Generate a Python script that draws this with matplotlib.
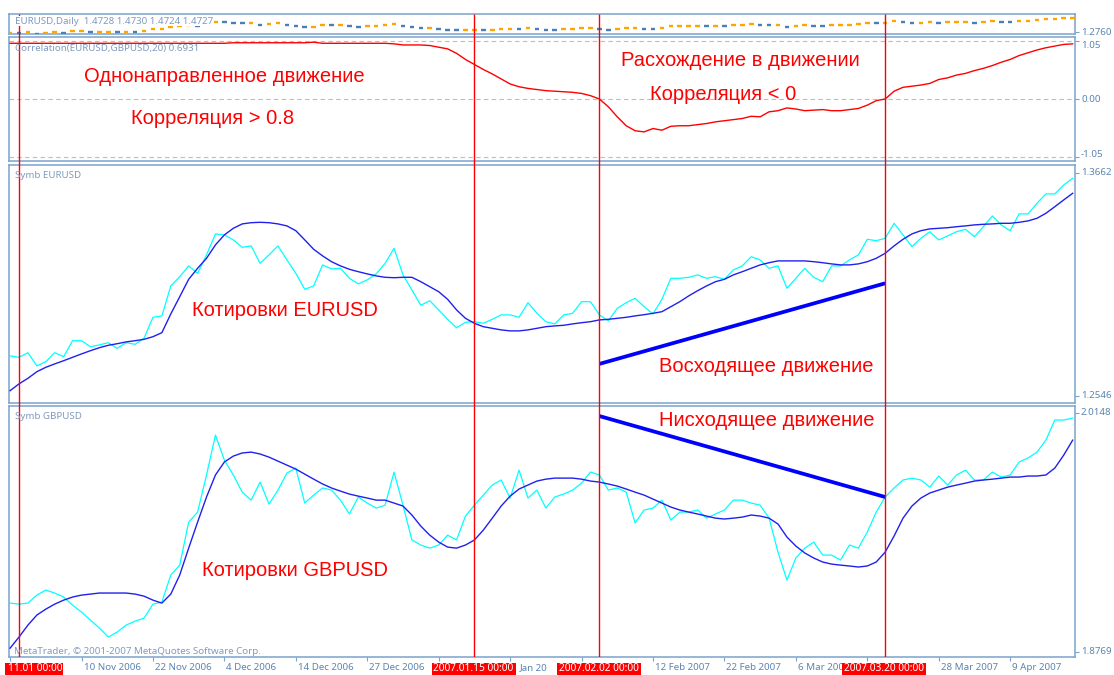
import matplotlib
matplotlib.use("Agg")
import matplotlib.pyplot as plt
import numpy as np
from matplotlib.transforms import blended_transform_factory
from matplotlib.patches import Rectangle

# ---------------- data ----------------
eur_close = [
    1.2746, 1.2739, 1.2762, 1.2696, 1.2717, 1.2762, 1.2742, 1.2822, 1.2822, 1.2792,
    1.2801, 1.2812, 1.2784, 1.2812, 1.2804, 1.2834, 1.2939, 1.2946, 1.3096, 1.3142,
    1.3196, 1.3159, 1.3251, 1.3356, 1.3351, 1.3326, 1.3289, 1.3296, 1.3209, 1.3251,
    1.3296, 1.3226, 1.3159, 1.3079, 1.3096, 1.3201, 1.3181, 1.3184, 1.3134, 1.3106,
    1.3126, 1.3156, 1.3209, 1.3284, 1.3151, 1.3076, 1.2999, 1.3022, 1.2976, 1.2929,
    1.2887, 1.2914, 1.2917, 1.2909, 1.2929, 1.2951, 1.2951, 1.2939, 1.3012, 1.2959,
    1.2917, 1.2906, 1.2951, 1.2959, 1.3017, 1.3017, 1.2951, 1.2921, 1.2984, 1.3012,
    1.3034, 1.2992, 1.2956, 1.3029, 1.3134, 1.3134, 1.3139, 1.3151, 1.3134, 1.3142,
    1.3129, 1.3176, 1.3196, 1.3242, 1.3226, 1.3184, 1.3196, 1.3084, 1.3134, 1.3184,
    1.3139, 1.3117, 1.3196, 1.3196, 1.3226, 1.3251, 1.3329, 1.3322, 1.3334, 1.3409,
    1.3351, 1.3292, 1.3334, 1.3367, 1.3326, 1.3346, 1.3367, 1.3379, 1.3342, 1.3392,
    1.3446, 1.3401, 1.3372, 1.3456, 1.3456, 1.3509, 1.3556, 1.3556, 1.3601, 1.3634,
]
eur_ma = [
    1.2572, 1.2606, 1.2634, 1.2667, 1.2689, 1.2706, 1.2722, 1.2739, 1.2756, 1.2772,
    1.2787, 1.2799, 1.2807, 1.2816, 1.2822, 1.2829, 1.2842, 1.2862, 1.2956, 1.3042,
    1.3129, 1.3184, 1.3234, 1.3301, 1.3351, 1.3384, 1.3406, 1.3412, 1.3414, 1.3412,
    1.3406, 1.3396, 1.3372, 1.3326, 1.3279, 1.3246, 1.3217, 1.3196, 1.3179, 1.3167,
    1.3156, 1.3146, 1.3139, 1.3137, 1.3139, 1.3139, 1.3117, 1.3092, 1.3067, 1.3029,
    1.2976, 1.2934, 1.2909, 1.2892, 1.2884, 1.2876, 1.2871, 1.2871, 1.2876, 1.2884,
    1.2892, 1.2896, 1.2899, 1.2906, 1.2912, 1.2917, 1.2926, 1.2929, 1.2934, 1.2939,
    1.2946, 1.2952, 1.2959, 1.2967, 1.2992, 1.3017, 1.3046, 1.3072, 1.3096, 1.3117,
    1.3129, 1.3151, 1.3167, 1.3184, 1.3201, 1.3212, 1.3221, 1.3221, 1.3221, 1.3221,
    1.3217, 1.3212, 1.3206, 1.3201, 1.3201, 1.3206, 1.3217, 1.3234, 1.3259, 1.3296,
    1.3329, 1.3356, 1.3372, 1.3381, 1.3384, 1.3387, 1.3392, 1.3396, 1.3401, 1.3404,
    1.3406, 1.3409, 1.3409, 1.3414, 1.3421, 1.3434, 1.3459, 1.3492, 1.3526, 1.3559,
]
gbp_close = [
    1.9050, 1.9044, 1.9050, 1.9096, 1.9125, 1.9108, 1.9085, 1.9038, 1.8998, 1.8952,
    1.8906, 1.8854, 1.8883, 1.8923, 1.8946, 1.8963, 1.9044, 1.9056, 1.9212, 1.9269,
    1.9517, 1.9575, 1.9789, 2.0019, 1.9875, 1.9789, 1.9690, 1.9644, 1.9748, 1.9621,
    1.9702, 1.9800, 1.9829, 1.9627, 1.9673, 1.9714, 1.9702, 1.9644, 1.9564, 1.9662,
    1.9627, 1.9598, 1.9615, 1.9806, 1.9615, 1.9414, 1.9385, 1.9367, 1.9385, 1.9442,
    1.9414, 1.9552, 1.9615, 1.9673, 1.9731, 1.9760, 1.9656, 1.9817, 1.9656, 1.9702,
    1.9598, 1.9662, 1.9679, 1.9702, 1.9742, 1.9806, 1.9789, 1.9702, 1.9714, 1.9690,
    1.9512, 1.9587, 1.9598, 1.9644, 1.9529, 1.9575, 1.9575, 1.9587, 1.9540, 1.9564,
    1.9587, 1.9644, 1.9644, 1.9627, 1.9615, 1.9540, 1.9344, 1.9183, 1.9310, 1.9367,
    1.9402, 1.9327, 1.9327, 1.9298, 1.9385, 1.9367, 1.9460, 1.9575, 1.9662, 1.9714,
    1.9760, 1.9771, 1.9760, 1.9719, 1.9783, 1.9731, 1.9789, 1.9817, 1.9760, 1.9760,
    1.9806, 1.9777, 1.9789, 1.9864, 1.9887, 1.9921, 1.9990, 2.0106, 2.0106, 2.0117,
]
gbp_ma = [
    1.8790, 1.8854, 1.8923, 1.8981, 1.9015, 1.9044, 1.9067, 1.9085, 1.9096, 1.9102,
    1.9108, 1.9108, 1.9108, 1.9108, 1.9102, 1.9090, 1.9067, 1.9050, 1.9102, 1.9212,
    1.9367, 1.9517, 1.9662, 1.9789, 1.9864, 1.9898, 1.9916, 1.9921, 1.9910, 1.9892,
    1.9869, 1.9846, 1.9823, 1.9794, 1.9765, 1.9737, 1.9714, 1.9696, 1.9679, 1.9667,
    1.9656, 1.9644, 1.9644, 1.9627, 1.9610, 1.9558, 1.9494, 1.9442, 1.9402, 1.9373,
    1.9367, 1.9385, 1.9414, 1.9471, 1.9540, 1.9610, 1.9667, 1.9708, 1.9731, 1.9754,
    1.9765, 1.9771, 1.9771, 1.9771, 1.9765, 1.9754, 1.9748, 1.9737, 1.9725, 1.9708,
    1.9690, 1.9673, 1.9650, 1.9627, 1.9604, 1.9587, 1.9575, 1.9564, 1.9552, 1.9540,
    1.9535, 1.9540, 1.9546, 1.9558, 1.9552, 1.9540, 1.9506, 1.9431, 1.9379, 1.9339,
    1.9310, 1.9287, 1.9275, 1.9269, 1.9264, 1.9258, 1.9264, 1.9287, 1.9344, 1.9437,
    1.9540, 1.9610, 1.9656, 1.9685, 1.9702, 1.9719, 1.9731, 1.9742, 1.9754, 1.9760,
    1.9765, 1.9771, 1.9777, 1.9777, 1.9783, 1.9783, 1.9789, 1.9829, 1.9904, 1.9990,
]
correlation = [
    1.00, 1.00, 1.00, 1.00, 1.00, 1.00, 1.00, 1.00, 1.00, 1.00,
    1.00, 1.00, 1.00, 1.00, 1.00, 1.00, 1.00, 1.00, 1.00, 1.00,
    1.00, 1.00, 1.00, 1.00, 1.00, 1.01, 1.01, 1.01, 1.01, 1.01,
    1.01, 1.01, 1.01, 1.01, 1.02, 1.00, 1.00, 1.00, 1.00, 1.00,
    1.00, 1.00, 1.00, 0.99, 0.97, 0.97, 0.97, 0.96, 0.93, 0.90,
    0.82, 0.71, 0.62, 0.53, 0.45, 0.36, 0.27, 0.22, 0.19, 0.17,
    0.15, 0.14, 0.13, 0.12, 0.10, 0.06, 0.00, -0.14, -0.32, -0.48,
    -0.57, -0.59, -0.53, -0.56, -0.49, -0.48, -0.48, -0.46, -0.44, -0.41,
    -0.39, -0.37, -0.35, -0.31, -0.32, -0.23, -0.21, -0.16, -0.18, -0.21,
    -0.20, -0.19, -0.21, -0.21, -0.19, -0.17, -0.11, -0.03, 0.00, 0.14,
    0.21, 0.23, 0.25, 0.28, 0.35, 0.38, 0.43, 0.46, 0.51, 0.55,
    0.60, 0.66, 0.71, 0.78, 0.83, 0.88, 0.92, 0.95, 0.98, 0.99,
]

# time axis: tick marks every 8 bars; the labels that remain visible
tick_bars = [0, 8, 16, 24, 32, 40, 48, 56, 64, 72, 80, 88, 96, 104, 112]
label_bars = [8, 16, 24, 32, 40, 56, 72, 80, 88, 104, 112]
label_texts = ["10 Nov 2006", "22 Nov 2006", "4 Dec 2006", "14 Dec 2006", "27 Dec 2006",
               "Jan 20", "12 Feb 2007", "22 Feb 2007", "6 Mar 200", "28 Mar 2007",
               "9 Apr 2007"]
event_bars = [1, 52, 66, 98]
event_labels = ["11.01 00:00", "2007.01.15 00:00", "2007.02.02 00:00", "2007.03.20 00:00"]

eur_trend_bars = [66, 98]
eur_trend = [1.2706, 1.3109]
gbp_trend_bars = [66, 98]
gbp_trend = [2.0129, 1.9662]

# ---------------- figure ----------------
W, H = 1114, 675
fig = plt.figure(figsize=(W / 100, H / 100), dpi=100)
fig.patch.set_facecolor("white")

LEFT, RIGHT = 9, 1075
FRAME = "#7aa3cc"
LABEL = "#5b84b1"
SMALL = "#7f9bc0"
SMALLFONT = "Noto Sans"
BIGFONT = "Liberation Sans"
XLIM = (-0.12, 119.26)
BAR_PX = (RIGHT - LEFT) / (XLIM[1] - XLIM[0])  # pixels per bar


def rect(top, bottom):
    return [LEFT / W, 1 - bottom / H, (RIGHT - LEFT) / W, (bottom - top) / H]


def P(x, y):
    return x / W, 1 - y / H


def style(ax, yticks):
    ax.set_xlim(*XLIM)
    ax.set_xticks([])
    for s in ax.spines.values():
        s.set_color(FRAME)
        s.set_linewidth(1.1)
    ax.yaxis.tick_right()
    ax.set_yticks(yticks)
    ax.tick_params(axis="y", length=3, width=0.8, color=FRAME,
                   labelright=False, labelleft=False, direction="out")
    ax.set_facecolor("white")


def rlabel(ax, val, text, dy=0):
    ax.annotate(text, xy=(1, val), xycoords=("axes fraction", "data"),
                xytext=(6, -dy), textcoords="offset pixels", ha="left", va="center",
                fontsize=7, color=LABEL, family=SMALLFONT, annotation_clip=False)


x = np.arange(len(eur_close))

# panel 1: compressed daily chart
ax1 = fig.add_axes(rect(14, 34))
style(ax1, [1.2760])
ax1.set_ylim(1.2672, 1.3842)
closes = np.array(eur_close)
prev = np.concatenate([[closes[0]], closes[:-1]])
cols = np.where(closes >= prev, "#ffa500", "#4a7fb5")
ax1.scatter(x, closes, marker="_", s=11, c=cols, linewidths=1.7, zorder=3)
rlabel(ax1, 1.2760, "1.2760", dy=0)
fig.text(*P(15, 21), "EURUSD,Daily  1.4728 1.4730 1.4724 1.4727", fontsize=7,
         color=SMALL, family=SMALLFONT, va="center", ha="left", zorder=5,
         bbox=dict(boxstyle="square,pad=0.05", fc="white", ec="none"))

# panel 2: correlation
ax2 = fig.add_axes(rect(37, 161))
style(ax2, [1.05, 0.0, -1.05])
ax2.set_ylim(-1.113, 1.113)
for lv in [1.05, 0.0, -1.05]:
    ax2.axhline(lv, color="#bdbdbd", lw=0.8, ls=(0, (4, 3)), zorder=1)
ax2.plot(x, correlation, color="#ff0000", lw=1.0, zorder=3)
rlabel(ax2, 1.05, "1.05", dy=4.5)
rlabel(ax2, 0.0, "0.00", dy=0)
rlabel(ax2, -1.05, "-1.05", dy=-2.5)
fig.text(*P(15, 48), "Correlation(EURUSD,GBPUSD,20) 0.6931", fontsize=7,
         color=SMALL, family=SMALLFONT, va="center", ha="left", zorder=5)

# panel 3: EURUSD
ax3 = fig.add_axes(rect(165, 403))
style(ax3, [1.3662, 1.2546])
ax3.set_ylim(1.25105, 1.37005)
ax3.plot(x, eur_close, color="#00ffff", lw=0.9, zorder=3)
ax3.plot(x, eur_ma, color="#2020ee", lw=1.0, zorder=4)
ax3.plot(eur_trend_bars, eur_trend, color="#0000ff", lw=2.7, zorder=5,
         solid_capstyle="butt")
rlabel(ax3, 1.3662, "1.3662")
rlabel(ax3, 1.2546, "1.2546")
fig.text(*P(15, 176), "Symb EURUSD", fontsize=7, color=SMALL, family=SMALLFONT,
         va="center", ha="left")

# panel 4: GBPUSD
ax4 = fig.add_axes(rect(406, 657))
style(ax4, [2.0148, 1.8769])
ax4.set_ylim(1.8739, 2.0187)
ax4.plot(x, gbp_close, color="#00ffff", lw=0.9, zorder=3)
ax4.plot(x, gbp_ma, color="#2020ee", lw=1.0, zorder=4)
ax4.plot(gbp_trend_bars, gbp_trend, color="#0000ff", lw=2.7, zorder=5,
         solid_capstyle="butt")
rlabel(ax4, 2.0148, "2.0148")
rlabel(ax4, 1.8769, "1.8769")
fig.text(*P(15, 416), "Symb GBPUSD", fontsize=7, color=SMALL, family=SMALLFONT,
         va="center", ha="left")
fig.text(*P(14, 651), "MetaTrader, \u00a9 2001-2007 MetaQuotes Software Corp.",
         fontsize=7, color=SMALL, family=SMALLFONT, va="center", ha="left")

# bottom time axis
ax4.set_xticks(tick_bars)
ax4.tick_params(axis="x", length=3, width=0.8, color=FRAME, labelbottom=False,
                direction="out")
for b, lab in zip(label_bars, label_texts):
    off = 10 if lab.startswith("Jan") else 2
    ax4.annotate(lab, xy=(b, 0), xycoords=("data", "axes fraction"),
                 xytext=(off, -10.5), textcoords="offset pixels", ha="left", va="center",
                 fontsize=7, color=LABEL, family=SMALLFONT, annotation_clip=False)

tr = blended_transform_factory(ax4.transData, fig.transFigure)
for b, lab in zip(event_bars, event_labels):
    if b == event_bars[0]:
        x0, wbox = XLIM[0] - 0.45, 58 / BAR_PX  # clipped box at the left edge
        xc = x0 + wbox / 2 + 0.1
    else:
        wbox = 84 / BAR_PX
        x0 = b - 0.1 - wbox / 2
        xc = b - 0.1
    rct = Rectangle((x0, 0.0), wbox, 12.5 / H, transform=tr,
                    facecolor="#ff0000", edgecolor="none", zorder=10, clip_on=False)
    fig.add_artist(rct)
    t = fig.text(0, 0, lab, transform=tr, fontsize=7.3, color="white",
                 family=SMALLFONT, ha="center", va="center", zorder=11)
    t.set_position((xc, 1 - 668.5 / H))

# red vertical event lines across all panels
axo = fig.add_axes(rect(14, 657))
axo.set_xlim(*XLIM)
axo.set_ylim(0, 1)
axo.axis("off")
axo.patch.set_alpha(0)
axo.vlines(event_bars, 0, 1, colors="#ff0000", lw=1.0)

# red annotations
red_txt = [
    (224, 77, "Однонаправленное движение"),
    (213, 118, "Корреляция > 0.8"),
    (740, 60, "Расхождение в движении"),
    (723, 94, "Корреляция < 0"),
    (285, 311, "Котировки EURUSD"),
    (766, 366, "Восходящее движение"),
    (767, 421, "Нисходящее движение"),
    (295, 570, "Котировки GBPUSD"),
]
for px, py, t in red_txt:
    fig.text(*P(px, py), t, fontsize=14.5, color="#ff0000", family=BIGFONT,
             ha="center", va="center", zorder=20)

fig.savefig("out.png", dpi=100, facecolor="white")
